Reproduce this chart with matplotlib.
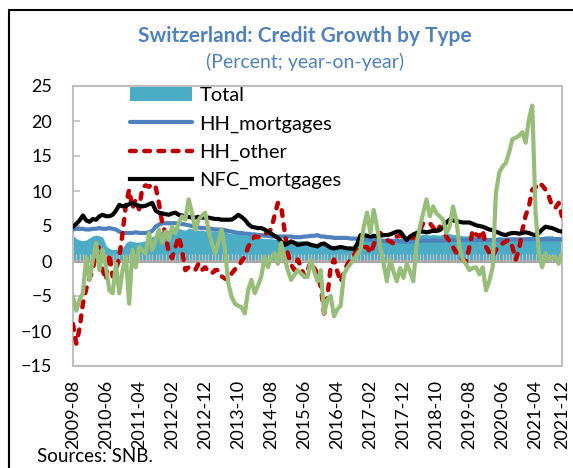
import numpy as np
import pandas as pd
import matplotlib
matplotlib.use("Agg")
import matplotlib.pyplot as plt
from matplotlib.patches import Rectangle, Patch
from matplotlib.lines import Line2D

plt.rcParams['font.family'] = ['Lato', 'DejaVu Sans']

months = pd.period_range('2009-08', '2021-12', freq='M').strftime('%Y-%m').tolist()
label_idx = list(range(0, 141, 10)) + [148]

total = [3.7, 3.2, 3.0, 2.9, 3.0, 3.3, 3.6, 3.7, 3.6, 3.4,
         2.2, 1.8, 1.6, 1.7, 1.6, 1.9, 2.6, 2.9, 2.8, 2.7,
         2.7, 2.8, 2.9, 3.3, 3.5, 3.7, 4.1, 4.3, 4.4, 4.4,
         4.6, 4.8, 4.7, 4.5, 4.4, 4.7, 4.6, 4.5, 4.4, 4.4,
         4.3, 4.4, 4.3, 4.3, 4.2, 4.3, 4.2, 4.0, 3.9, 3.9,
         3.8, 3.8, 3.7, 3.7, 3.6, 3.4, 3.3, 3.3, 3.2, 3.2,
         3.2, 3.1, 3.1, 3.0, 3.0, 3.0, 2.9, 2.9, 2.9, 2.9,
         2.8, 2.6, 2.4, 2.3, 2.2, 2.3, 2.2, 2.1, 2.1, 2.0,
         2.0, 2.1, 2.1, 2.0, 2.0, 2.2, 2.6, 2.9, 3.0, 3.0,
         3.1, 3.1, 3.0, 3.1, 3.1, 3.0, 3.0, 3.1, 3.2, 3.2,
         3.3, 3.4, 3.5, 3.6, 3.7, 3.7, 3.8, 3.8, 3.7, 3.8,
         3.7, 3.7, 3.8, 3.9, 3.9, 3.8, 3.8, 3.7, 3.6, 3.6,
         3.6, 3.6, 3.5, 3.5, 3.4, 3.4, 3.3, 3.3, 3.4, 3.5,
         3.4, 3.4, 3.3, 3.3, 3.3, 3.3, 3.4, 3.4, 3.5, 3.5,
         3.4, 3.4, 3.5, 3.6, 3.6, 3.6, 3.5, 3.5, 3.5]

hh_mortgages = [4.5, 4.6, 4.6, 4.6, 4.5, 4.5, 4.6, 4.6, 4.7, 4.6, 4.6, 4.7, 4.6, 4.5,
                4.2, 4.0, 4.0, 4.0, 4.0, 4.1, 4.0, 4.0, 4.0, 4.1, 4.3,
                4.9, 5.2, 5.4, 5.4, 5.4, 5.4, 5.4, 5.3, 5.3, 5.2, 5.1,
                5.0, 4.9, 4.8, 4.7, 4.7, 4.6, 4.6, 4.5, 4.5, 4.5, 4.4, 4.3, 4.2, 4.1, 4.0,
                4.0, 3.9, 3.9, 3.8, 3.8, 3.7, 3.7, 3.6, 3.6, 3.5, 3.5, 3.5, 3.5, 3.5, 3.5,
                3.5, 3.4, 3.4, 3.4, 3.5,
                3.5, 3.6, 3.6, 3.7, 3.5, 3.5, 3.4, 3.4, 3.3, 3.3, 3.3, 3.3, 3.3, 3.2, 3.2,
                3.2, 3.1, 3.1, 3.1, 3.0,
                3.0, 2.9, 2.9, 2.9, 2.9, 2.9, 2.9, 2.9, 2.8, 2.8, 2.8, 2.8, 2.8, 2.8, 2.9,
                2.9, 2.9, 2.9, 2.9, 2.9,
                2.9, 2.9, 3.0, 3.0, 3.0, 3.0, 3.0, 3.0, 3.0, 3.0, 3.0, 3.0, 3.0, 3.0, 3.0,
                3.0, 3.0, 3.0, 3.0, 3.0,
                3.0, 3.1, 3.1, 3.1, 3.1, 3.1, 3.1, 3.1, 3.1, 3.1, 3.1, 3.1, 3.1, 3.1, 3.1,
                3.1, 3.1, 3.1]

hh_other = [-9.0, -11.8, -9.6, -6.1, -4.0, -2.5, -1.3, 1.6, 2.0, -1.3,
            -2.7, 1.0, -2.2, -1.3, 0.5, 4.0, 8.0, 10.2, 7.5, 8.8,
            7.4, 10.5, 10.8, 10.6, 11.0, 10.6, 8.3, 5.4, 4.0, 1.1,
            0.4, 2.0, 3.5, 1.6, -1.3, -0.9, -1.0, -1.3, -0.4, -1.3,
            -0.9, -1.5, -1.8, -1.3, -1.3, -2.2, -2.5, -2.7, -1.8, -1.2,
            -0.9, 0.0, 0.6, 2.0, 2.8, 3.5, 3.4, 3.5, 3.8, 4.2,
            4.5, 6.5, 8.3, 7.8, 4.5, 1.1, -0.5, -1.3, 0.2, -0.8,
            -2.2, -1.3, -0.1, -1.0, -1.8, -3.7, -7.5, -5.0, -0.8, 0.2,
            -1.5, -3.0, -1.6, -0.5, 0.2, 0.8, 1.6, 1.8, 2.0, 2.0,
            1.1, 2.3, 3.5, 4.0, 3.5, 3.0, 2.8, 2.5, 3.5, 3.6,
            3.5, 3.5, 3.4, 3.3, 3.8, 4.4, 5.4, 5.5, 5.4, 4.8,
            4.0, 4.9, 4.3, 3.5, 2.8, 2.0, 1.2, 0.6, 0.2, -0.1,
            2.0, 4.4, 3.8, 3.5, 4.4, 2.0, 1.2, 0.6, 1.6, 2.0,
            2.5, 2.8, 3.0, 2.0, 0.2, 1.6, 4.4, 6.5, 7.8, 10.2,
            10.5, 11.2, 10.8, 10.2, 9.3, 7.8, 7.6, 8.3, 6.4]

nfc_mortgages = [4.9, 5.3, 5.8, 6.5, 5.8, 5.6, 6.0, 5.9, 6.4, 6.6,
                 6.4, 6.4, 6.6, 7.2, 8.0, 7.8, 7.9, 8.1, 8.3, 8.0,
                 7.9, 7.8, 7.9, 8.1, 8.3, 7.2, 6.9, 6.8, 6.7, 6.6,
                 6.8, 6.9, 6.6, 6.5, 6.4, 6.3, 6.2, 6.2, 6.3, 6.2,
                 6.2, 6.2, 6.1, 6.0, 6.0, 5.9, 5.9, 5.9, 5.9, 6.2,
                 6.6, 6.3, 5.9, 5.3, 4.9, 4.8, 4.7, 4.7, 4.5, 4.2,
                 3.9, 3.6, 3.3, 2.8, 2.3, 2.5, 2.8, 2.6, 2.3, 2.4,
                 2.5, 2.5, 2.3, 2.2, 2.1, 2.4, 2.5, 2.2, 1.9, 1.8,
                 1.9, 2.0, 1.9, 1.8, 1.8, 1.7, 2.4, 3.7, 3.7, 3.6,
                 3.5, 3.6, 3.5, 3.6, 3.7, 3.7, 3.8, 4.0, 4.2, 4.2,
                 3.6, 3.0, 3.5, 3.8, 4.0, 4.2, 4.2, 4.1, 4.2, 4.3,
                 4.3, 4.4, 4.8, 5.5, 5.9, 5.8, 5.7, 5.6, 5.5, 5.5,
                 5.5, 5.3, 5.1, 5.0, 4.9, 4.7, 4.5, 4.4, 4.2, 4.0,
                 3.8, 3.7, 3.9, 4.0, 4.0, 3.9, 4.0, 4.1, 4.0, 3.8,
                 3.7, 4.0, 4.5, 4.9, 4.8, 4.7, 4.5, 4.3, 4.2]

nfc_other = [-5.1, -7.1, -5.5, -4.6, 0.6, -2.7, 0.2, 2.6, -1.3, 1.6,
             -0.9, -4.2, -4.6, -0.4, -4.6, -1.3, 0.6, -6.1, 1.6, -0.9,
             2.0, 1.5, 1.1, 4.0, 1.6, 3.0, 4.5, 2.6, 4.2, 3.0,
             4.9, 4.0, 5.4, 6.4, 5.9, 8.8, 6.9, 4.5, 5.9, 6.5,
             6.9, 4.5, 2.6, 1.1, 2.6, 4.5, 1.6, -3.2, -5.1, -6.1,
             -6.4, -6.6, -7.5, -4.2, -2.7, -4.6, -3.5, -2.2, 0.6, -0.9,
             0.5, 1.1, -0.4, 2.6, 0.5, -1.3, -2.7, -2.0, -1.3, -1.8,
             -2.2, -2.3, 0.2, -1.5, -2.9, -1.3, -7.5, -5.5, -5.0, -7.9,
             -6.9, -6.4, -1.9, -1.0, -0.4, 0.2, 1.0, 1.6, 4.9, 6.9,
             4.0, 7.3, 4.9, 2.0, -0.4, -2.9, 0.2, -1.5, -2.9, -1.0,
             -2.4, -0.4, -1.5, -2.9, 2.4, 4.9, 6.9, 8.8, 6.4, 7.8,
             6.8, 6.4, 5.9, 4.0, 4.9, 7.8, 5.9, 2.0, 0.2, -0.5,
             -1.3, -1.0, -0.9, -1.9, -0.9, -4.2, -2.9, -0.9, 9.7, 12.6,
             13.5, 14.0, 15.5, 17.4, 17.6, 17.9, 18.4, 16.9, 20.3, 22.2,
             6.9, 1.1, -0.9, 1.1, 0.2, 0.5, 0.6, -0.4, 1.1]

x = np.arange(len(months))

fig = plt.figure(figsize=(5.73, 4.68), dpi=100)
ax = fig.add_axes([73 / 573, 1 - 366 / 468, 489 / 573, 280 / 468])

title_col = '#4F81BD'
teal = '#4BACC6'
grid_gray = '#A6A6A6'

ax.fill_between(x, 0, total, color=teal, lw=0, zorder=1)
# category axis drawn at zero with monthly tick marks
ax.axhline(0, color=grid_gray, lw=2.2, zorder=2)
ax.vlines(x, 0, 1.0, color='#BFBFBF', lw=0.9, zorder=2)

ax.plot(x, hh_mortgages, color=title_col, lw=3, zorder=3, solid_capstyle='round')
ax.plot(x, hh_other, color='#C00000', lw=3.2, zorder=4, linestyle=(0, (1.3, 1.9)),
        dash_capstyle='round')
ax.plot(x, nfc_mortgages, color='black', lw=3, zorder=5)
ax.plot(x, nfc_other, color='#97BE78', lw=3, zorder=6)

ax.set_xlim(0, len(months) - 1)
ax.set_ylim(-15, 25)
ax.set_yticks(range(-15, 26, 5))
ax.set_xticks(label_idx)
ax.set_xticklabels([months[i] for i in label_idx], rotation=90)
ax.tick_params(axis='x', length=0, pad=10, labelsize=13)
ax.tick_params(axis='y', direction='in', length=5, width=1.2, color='#BFBFBF',
               pad=15, labelsize=13)
for s in ax.spines.values():
    s.set_color('#BFBFBF')
    s.set_linewidth(1.5)

handles = [Patch(facecolor=teal, edgecolor='none'),
           Line2D([], [], color=title_col, lw=3, solid_capstyle='round'),
           Line2D([], [], color='#C00000', lw=3.2, linestyle=(0, (1.3, 1.9)),
                  dash_capstyle='round'),
           Line2D([], [], color='black', lw=3)]
ax.legend(handles, ['Total', 'HH_mortgages', 'HH_other', 'NFC_mortgages'],
          loc='upper left', bbox_to_anchor=(0.1, 1.025), frameon=False,
          fontsize=14.5, handlelength=3.1, handletextpad=0.35, labelspacing=0.55,
          borderaxespad=0)

fig.text(305 / 573, 1 - 36 / 468, 'Switzerland: Credit Growth by Type', ha='center',
         va='center', fontsize=15, fontweight='bold', color=title_col)
fig.text(305 / 573, 1 - 62 / 468, '(Percent; year-on-year)', ha='center',
         va='center', fontsize=14, color=title_col)
fig.text(37 / 573, 1 - 457 / 468, 'Sources: SNB.', ha='left', va='center', fontsize=13.5)

fig.add_artist(Rectangle((9 / 573, -0.1), 1.2, 1.1 - 10 / 468, transform=fig.transFigure,
                         fill=False, edgecolor='black', lw=1.5))

fig.savefig('out.png', dpi=100)
